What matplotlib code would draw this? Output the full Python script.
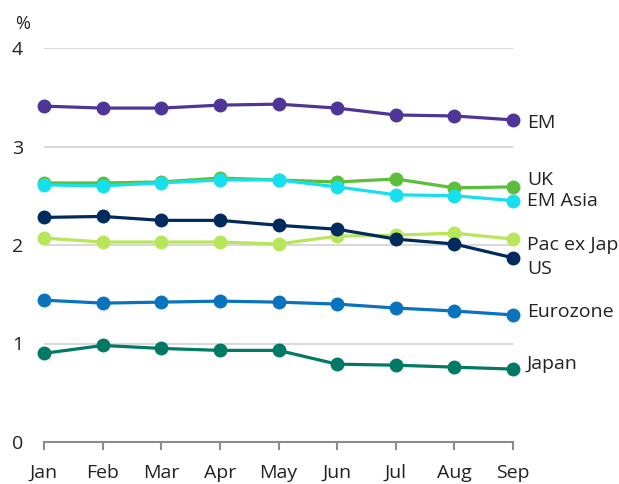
import matplotlib.pyplot as plt

plt.rcParams['font.family'] = ['Open Sans', 'DejaVu Sans']

months = ['Jan', 'Feb', 'Mar', 'Apr', 'May', 'Jun', 'Jul', 'Aug', 'Sep']

em = [3.41, 3.39, 3.39, 3.42, 3.43, 3.39, 3.32, 3.31, 3.27]
uk = [2.63, 2.63, 2.64, 2.68, 2.66, 2.64, 2.67, 2.58, 2.59]
em_asia = [2.61, 2.60, 2.63, 2.66, 2.66, 2.59, 2.51, 2.50, 2.45]
us = [2.28, 2.29, 2.25, 2.25, 2.20, 2.16, 2.06, 2.01, 1.87]
pac_ex_jap = [2.07, 2.03, 2.03, 2.03, 2.01, 2.09, 2.10, 2.12, 2.06]
eurozone = [1.44, 1.41, 1.42, 1.43, 1.42, 1.40, 1.36, 1.33, 1.29]
japan = [0.90, 0.98, 0.95, 0.93, 0.93, 0.79, 0.78, 0.76, 0.74]

series = [
    ('EM', em, '#4f3598'),
    ('Pac ex Jap', pac_ex_jap, '#b8e65a'),
    ('UK', uk, '#5cbf3a'),
    ('EM Asia', em_asia, '#17e0ee'),
    ('US', us, '#002b5c'),
    ('Eurozone', eurozone, '#0a73bd'),
    ('Japan', japan, '#007a64'),
]
# vertical nudge (points) for the end labels so they don't collide
label_dy = {'EM': -2, 'UK': 5, 'EM Asia': 0, 'Pac ex Jap': -4, 'US': -8,
            'Eurozone': 2, 'Japan': 4}

fig = plt.figure(figsize=(6.19, 4.84), dpi=100)
ax = fig.add_axes([44 / 619, 42 / 484, 469 / 619, 394 / 484])

x = list(range(len(months)))
for name, vals, col in series:
    ax.plot(x, vals, color=col, lw=2.3, marker='o', ms=9, clip_on=False, zorder=3)
    ax.annotate(name, (x[-1], vals[-1]), xytext=(10, label_dy[name]),
                textcoords='offset points', va='center', ha='left',
                fontsize=14, color='#222222', annotation_clip=False)

ax.set_xlim(0, 8)
ax.set_ylim(0, 4)
ax.set_yticks([0, 1, 2, 3, 4])
ax.set_xticks(x)
ax.set_xticklabels(months)
ax.grid(axis='y', color='#d9d9d9', lw=1.5)
ax.set_axisbelow(True)
for s in ['top', 'right', 'left']:
    ax.spines[s].set_visible(False)
ax.spines['bottom'].set_color('#8c8c8c')
ax.spines['bottom'].set_linewidth(1.5)
ax.tick_params(axis='y', length=0, pad=15, labelsize=14, labelcolor='#222222')
ax.tick_params(axis='x', length=5.5, width=1.5, color='#8c8c8c', pad=10,
               labelsize=14, labelcolor='#222222')
ax.text(-0.062, 1.06, '%', transform=ax.transAxes, fontsize=13,
        color='#222222', ha='left', va='center')

fig.savefig('out.png', dpi=100)
